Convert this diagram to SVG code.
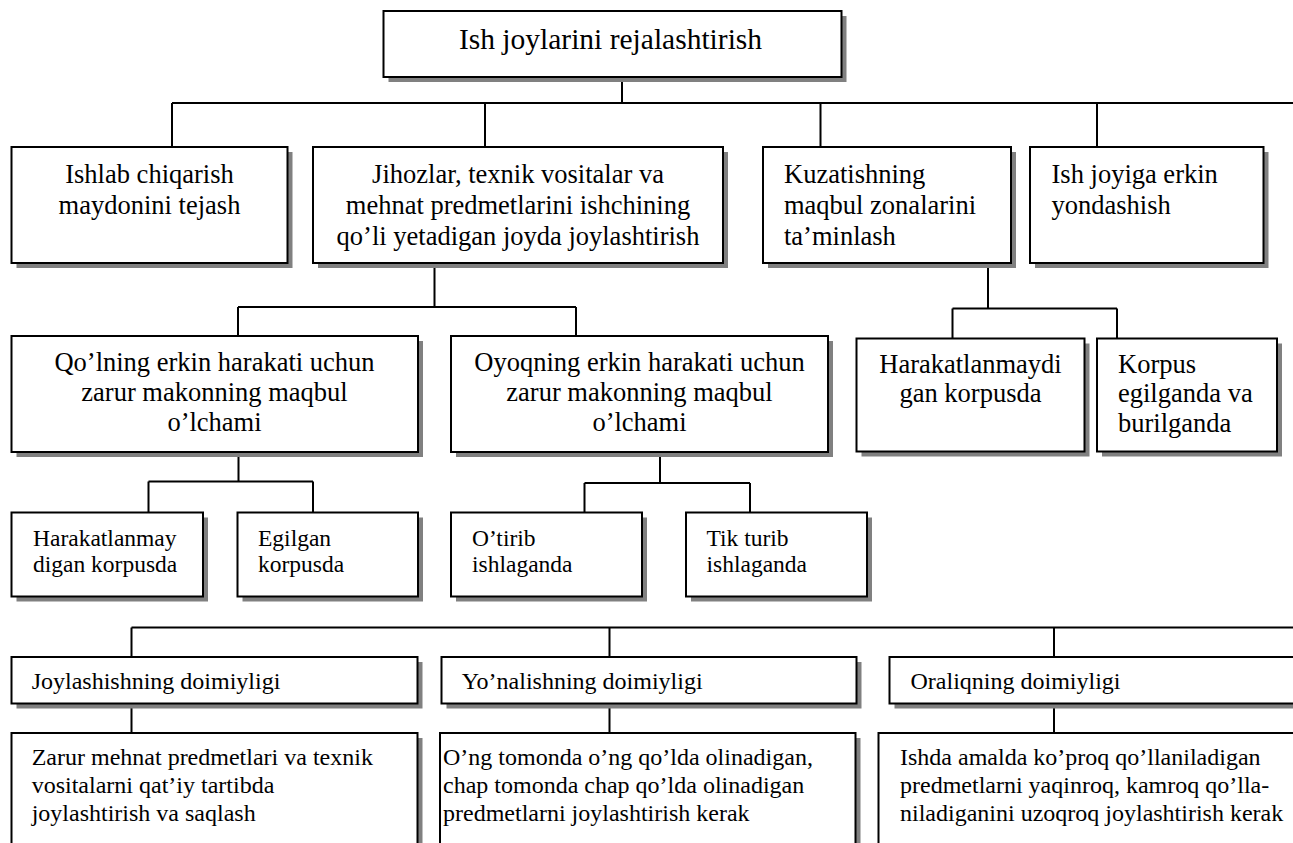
<svg xmlns="http://www.w3.org/2000/svg" width="1293" height="843" viewBox="0 0 1293 843">
  <style>
    .shadow { fill: #808080; }
    .box { fill: #ffffff; stroke: #000000; stroke-width: 2; }
    .conn { fill: none; stroke: #000000; stroke-width: 2; }
    text { font-family: "Liberation Serif", "Times New Roman", serif; fill: #000000; }
    .t1 { font-size: 29.5px; }
    .t2 { font-size: 26.5px; }
    .t3 { font-size: 23.5px; }
    .t4 { font-size: 24px; }
    .c { text-anchor: middle; }
  </style>

  <!-- connectors -->
  <g id="connectors" class="conn">
    <path d="M622,77 V103 M172,103 H1295 M172,103 V147 M485,103 V147 M820.5,103 V147 M1097,103 V147"/>
    <path d="M434.5,263 V307 M238,307 H576 M238,307 V336 M576,307 V336"/>
    <path d="M988,263 V308.5 M952.5,308.5 H1117 M952.5,308.5 V338.5 M1117,308.5 V338.5"/>
    <path d="M238.5,452 V481.5 M148.5,481.5 H313 M148.5,481.5 V512.5 M313,481.5 V512.5"/>
    <path d="M660,452 V483 M584.5,483 H750 M584.5,483 V512.5 M750,483 V512.5"/>
    <path d="M131.5,627.5 H1295 M131.5,627.5 V657 M609.5,627.5 V657 M1054,627.5 V657"/>
    <path d="M131.5,703.5 V733 M609.5,703.5 V733 M1054,703.5 V733"/>
  </g>

  <g id="root">
    <rect class="shadow" x="388.5" y="16" width="458" height="66"/>
    <rect class="box" x="383.5" y="11" width="458" height="66"/>
    <text class="t1 c" x="610.5" y="48.5">Ish joylarini rejalashtirish</text>
  </g>

  <g id="n-maydon">
    <rect class="shadow" x="16.5" y="152" width="276" height="116"/>
    <rect class="box" x="11.5" y="147" width="276" height="116"/>
    <text class="t2 c" x="149.5" y="183">Ishlab chiqarish</text>
    <text class="t2 c" x="149.5" y="213.5">maydonini tejash</text>
  </g>

  <g id="n-jihozlar">
    <rect class="shadow" x="318" y="152" width="410" height="116"/>
    <rect class="box" x="313" y="147" width="410" height="116"/>
    <text class="t2 c" x="518" y="183">Jihozlar, texnik vositalar va</text>
    <text class="t2 c" x="518" y="214">mehnat predmetlarini ishchining</text>
    <text class="t2 c" x="518" y="245">qo’li yetadigan joyda joylashtirish</text>
  </g>

  <g id="n-kuzatish">
    <rect class="shadow" x="768" y="152" width="248" height="116"/>
    <rect class="box" x="763" y="147" width="248" height="116"/>
    <text class="t2" x="784" y="183">Kuzatishning</text>
    <text class="t2" x="784" y="214">maqbul zonalarini</text>
    <text class="t2" x="784" y="245">ta’minlash</text>
  </g>

  <g id="n-yondashish">
    <rect class="shadow" x="1035" y="152" width="233.5" height="116"/>
    <rect class="box" x="1030" y="147" width="233.5" height="116"/>
    <text class="t2" x="1051.5" y="183">Ish joyiga erkin</text>
    <text class="t2" x="1051.5" y="214">yondashish</text>
  </g>

  <g id="n-qol">
    <rect class="shadow" x="16.5" y="341" width="406.5" height="116"/>
    <rect class="box" x="11.5" y="336" width="406.5" height="116"/>
    <text class="t2 c" x="214.5" y="371">Qo’lning erkin harakati uchun</text>
    <text class="t2 c" x="214.5" y="401">zarur makonning maqbul</text>
    <text class="t2 c" x="214.5" y="431">o’lchami</text>
  </g>

  <g id="n-oyoq">
    <rect class="shadow" x="456" y="341" width="377" height="116"/>
    <rect class="box" x="451" y="336" width="377" height="116"/>
    <text class="t2 c" x="639.5" y="371">Oyoqning erkin harakati uchun</text>
    <text class="t2 c" x="639.5" y="401">zarur makonning maqbul</text>
    <text class="t2 c" x="639.5" y="431">o’lchami</text>
  </g>

  <g id="n-harakatlanmaydi">
    <rect class="shadow" x="861.5" y="343.5" width="228" height="113"/>
    <rect class="box" x="856.5" y="338.5" width="228" height="113"/>
    <text class="t2 c" x="970.5" y="372.5">Harakatlanmaydi</text>
    <text class="t2 c" x="970.5" y="402">gan korpusda</text>
  </g>

  <g id="n-burilganda">
    <rect class="shadow" x="1102" y="343.5" width="180" height="113"/>
    <rect class="box" x="1097" y="338.5" width="180" height="113"/>
    <text class="t2" x="1118" y="372.5">Korpus</text>
    <text class="t2" x="1118" y="402">egilganda va</text>
    <text class="t2" x="1118" y="432">burilganda</text>
  </g>

  <g id="n-harakatlanmay">
    <rect class="shadow" x="16.5" y="517.5" width="191.5" height="84"/>
    <rect class="box" x="11.5" y="512.5" width="191.5" height="84"/>
    <text class="t3" x="33" y="546">Harakatlanmay</text>
    <text class="t3" x="33" y="572">digan korpusda</text>
  </g>

  <g id="n-egilgan">
    <rect class="shadow" x="242.5" y="517.5" width="180.5" height="84"/>
    <rect class="box" x="237.5" y="512.5" width="180.5" height="84"/>
    <text class="t3" x="258" y="546">Egilgan</text>
    <text class="t3" x="258" y="572">korpusda</text>
  </g>

  <g id="n-otirib">
    <rect class="shadow" x="456" y="517.5" width="191" height="84"/>
    <rect class="box" x="451" y="512.5" width="191" height="84"/>
    <text class="t3" x="472" y="546">O’tirib</text>
    <text class="t3" x="472" y="572">ishlaganda</text>
  </g>

  <g id="n-tikturib">
    <rect class="shadow" x="691" y="517.5" width="181" height="84"/>
    <rect class="box" x="686" y="512.5" width="181" height="84"/>
    <text class="t3" x="706.5" y="546">Tik turib</text>
    <text class="t3" x="706.5" y="572">ishlaganda</text>
  </g>

  <g id="n-joylashish">
    <rect class="shadow" x="16.5" y="662" width="406" height="46.5"/>
    <rect class="box" x="11.5" y="657" width="406" height="46.5"/>
    <text class="t4" x="31.7" y="688.5">Joylashishning doimiyligi</text>
  </g>

  <g id="n-yonalish">
    <rect class="shadow" x="446.5" y="662" width="415" height="46.5"/>
    <rect class="box" x="441.5" y="657" width="415" height="46.5"/>
    <text class="t4" x="461.7" y="688.5">Yo’nalishning doimiyligi</text>
  </g>

  <g id="n-oraliq">
    <rect class="shadow" x="894.5" y="662" width="420" height="46.5"/>
    <rect class="box" x="889.5" y="657" width="420" height="46.5"/>
    <text class="t4" x="910.5" y="688.5">Oraliqning doimiyligi</text>
  </g>

  <g id="n-joylashish-izoh">
    <rect class="shadow" x="16.5" y="738" width="406" height="130"/>
    <rect class="box" x="11.5" y="733" width="406" height="130"/>
    <text class="t4" x="31.7" y="765">Zarur mehnat predmetlari va texnik</text>
    <text class="t4" x="31.7" y="793">vositalarni qat’iy tartibda</text>
    <text class="t4" x="31.7" y="821">joylashtirish va saqlash</text>
  </g>

  <g id="n-yonalish-izoh">
    <rect class="shadow" x="445" y="738" width="415.5" height="130"/>
    <rect class="box" x="440" y="733" width="415.5" height="130"/>
    <text class="t4" x="443" y="765">O’ng tomonda o’ng qo’lda olinadigan,</text>
    <text class="t4" x="443" y="793">chap tomonda chap qo’lda olinadigan</text>
    <text class="t4" x="443" y="821">predmetlarni joylashtirish kerak</text>
  </g>

  <g id="n-oraliq-izoh">
    <rect class="shadow" x="883.5" y="738" width="430" height="130"/>
    <rect class="box" x="878.5" y="733" width="430" height="130"/>
    <text class="t4" x="900" y="765">Ishda amalda ko’proq qo’llaniladigan</text>
    <text class="t4" x="900" y="793">predmetlarni yaqinroq, kamroq qo’lla-</text>
    <text class="t4" x="900" y="821">niladiganini uzoqroq joylashtirish kerak</text>
  </g>
</svg>
